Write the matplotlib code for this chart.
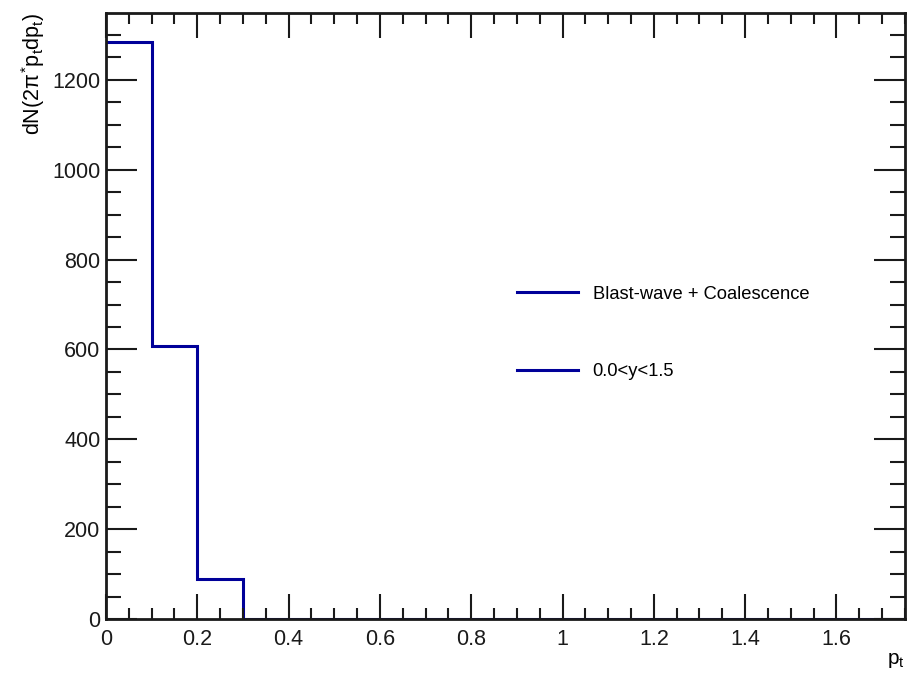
import matplotlib
matplotlib.use("Agg")
import matplotlib.pyplot as plt
from matplotlib.ticker import MultipleLocator
from matplotlib.lines import Line2D

plt.rcParams['font.family'] = ['Liberation Sans', 'DejaVu Sans']
plt.rcParams['mathtext.fontset'] = 'custom'
plt.rcParams['mathtext.rm'] = 'Liberation Sans'
plt.rcParams['mathtext.it'] = 'Liberation Sans'

# Data
bin_edges = [0.0, 0.1, 0.2, 0.3, 0.4, 0.5, 0.6, 0.7, 0.8, 0.9, 1.0,
             1.1, 1.2, 1.3, 1.4, 1.5, 1.6, 1.7, 1.8]
counts = [1285, 607, 89, 0, 0, 0, 0, 0, 0, 0, 0, 0, 0, 0, 0, 0, 0, 0]
legend_labels = ["Blast-wave + Coalescence", "0.0<y<1.5"]
x_label = r"p$_{\rm t}$"
y_label = r"dN(2$\pi^{*}$p$_{\rm t}$dp$_{\rm t}$)"

color = "#000099"

fig = plt.figure(figsize=(9.15, 6.73), dpi=100)
ax = fig.add_axes([0.1158, 0.0802, 0.8732, 0.9005])

ax.stairs(counts, bin_edges, color=color, linewidth=2.2, baseline=None)

ax.set_xlim(0, 1.75)
ax.set_ylim(0, 1349)

ax.xaxis.set_major_locator(MultipleLocator(0.2))
ax.xaxis.set_minor_locator(MultipleLocator(0.05))
ax.yaxis.set_major_locator(MultipleLocator(200))
ax.yaxis.set_minor_locator(MultipleLocator(50))
ax.xaxis.set_major_formatter(matplotlib.ticker.FuncFormatter(lambda v, p: f"{v:g}"))

ax.tick_params(which='both', direction='in', top=True, right=True, labelsize=15.5, colors='#1a1a1a')
ax.tick_params(axis='x', which='major', length=18, width=1.5, pad=7)
ax.tick_params(axis='x', which='minor', length=8, width=1.5)
ax.tick_params(axis='y', which='major', length=22, width=1.5, pad=4)
ax.tick_params(axis='y', which='minor', length=11, width=1.5)
for s in ax.spines.values():
    s.set_linewidth(2)
    s.set_color('#1a1a1a')

ax.set_xlabel(x_label, fontsize=15, loc='right', labelpad=1)
ax.set_ylabel(y_label, fontsize=15.5, loc='top', labelpad=4)

handles = [Line2D([], [], color=color, linewidth=2.2) for _ in legend_labels]
ax.legend(handles, legend_labels, frameon=False, fontsize=13.2,
          loc='upper left', bbox_to_anchor=(0.515, 0.55),
          handlelength=3.33, handletextpad=0.77, labelspacing=3.3,
          borderpad=0, borderaxespad=0)

fig.savefig("out.png", dpi=100)
